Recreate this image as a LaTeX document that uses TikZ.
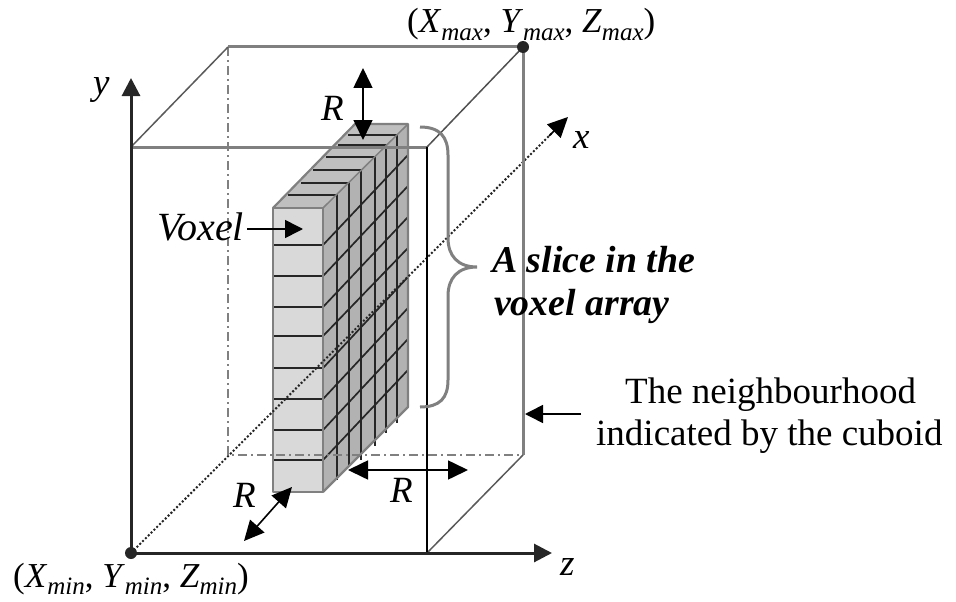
\documentclass[tikz,border=0pt]{standalone}
\usepackage{fontspec}
\setmainfont{Liberation Serif}
\usetikzlibrary{arrows.meta, positioning}
\definecolor{edgegray}{HTML}{808080}
\definecolor{axisdark}{HTML}{262626}
\tikzstyle{every node}=[font=\fontsize{37}{42}\selectfont, inner sep=0pt, anchor=base west]
\tikzstyle{heavyedge}=[draw=edgegray, line width=3pt]
\tikzstyle{thinedge}=[draw=axisdark!80!white, line width=1.5pt]
\tikzstyle{hiddenedge}=[draw=edgegray, line width=1.2pt, dash pattern=on 9pt off 4pt on 2pt off 4pt]
\tikzstyle{axis}=[draw=axisdark, line width=3pt, -{Triangle[length=18pt,width=18pt]}]
\tikzstyle{dimarrow}=[draw=black, line width=1.6pt, {Triangle[length=20pt,width=19pt]}-{Triangle[length=20pt,width=19pt]}]
\tikzstyle{pointer}=[draw=black, line width=1.6pt, -{Triangle[length=18pt,width=18pt]}]
\tikzstyle{gridline}=[draw=axisdark, line width=1.7pt]
\tikzstyle{cornerdot}=[circle, fill=axisdark, minimum size=12pt, anchor=center]
\tikzstyle{slicetext}=[font=\fontsize{37.8}{42}\selectfont\bfseries\itshape]
\newcommand{\subtxt}[1]{\raisebox{-0.22em}{\fontsize{25}{25}\selectfont\itshape #1}}
\newcommand{\corner}[1]{{\fontsize{35}{40}\selectfont(\textit{X}\subtxt{#1}, \textit{Y}\subtxt{#1}, \textit{Z}\subtxt{#1})}}

\begin{document}
\begin{tikzpicture}[x=1pt, y=-1pt]
    \useasboundingbox (0,0) rectangle (956,602);
    % cuboid corners
    \coordinate (fbl) at (131,553);
    \coordinate (ftl) at (131,147);
    \coordinate (ftr) at (427,147);
    \coordinate (fbr) at (427,553);
    \coordinate (btl) at (228,47);
    \coordinate (btr) at (523,47);
    \coordinate (bbr) at (523,455);
    \coordinate (bbl) at (228,455);
    % voxel slice
    \fill[gray!30!white] (273,208) rectangle (323,492);
    \fill[gray!60!white] (323,208) -- (408,124) -- (408,407) -- (323,492) -- cycle;
    \fill[gray!50!white] (273,208) -- (355,124) -- (408,124) -- (323,208) -- cycle;
    \foreach \a/\b in {245/155, 276/186, 307/217, 336/248, 368/277, 399/308, 430/339, 460/370}
        \draw[gridline] (273,\a) -- (323,\a) -- (408,\b);
    \foreach \xa/\ya/\xb/\yb/\yc in {288/195/337/195/480, 301/183/349/183/467, 313/170/361/170/460, 326/157/375/157/446, 338/145/386/145/433, 348/135/397/135/423}
        \draw[gridline] (\xa,\ya) -- (\xb,\yb) -- (\xb,\yc);
    \draw[edgegray, line width=2.2pt, line join=round] (323,208) -- (273,208) -- (273,492) -- (323,492) -- cycle;
    \draw[edgegray, line width=2.2pt, line join=round] (273,208) -- (355,124) -- (408,124) -- (408,407) -- (323,492);
    \draw[edgegray, line width=1.5pt] (323,208) -- (408,124);
    % hidden edges and x axis
    \draw[hiddenedge] (btl) -- (bbl) -- (bbr);
    \coordinate (xtip) at (568,117);
    \draw[draw=axisdark, line width=2pt, dotted] (fbl) -- (552,133);
    \draw[black, line width=1.5pt, -{Triangle[length=20pt,width=19pt]}] (549,136) -- (xtip);
    % visible edges
    \draw[heavyedge] (ftl) -- (ftr);
    \draw[heavyedge] (btl) -- (btr) -- (bbr);
    \draw[thinedge, edgegray!70!black] (ftl) -- (btl);
    \draw[thinedge] (ftr) -- (btr);
    \draw[thinedge, edgegray!70!black] (fbr) -- (bbr);
    \draw[draw=black, line width=1.6pt] (ftr) -- (fbr);
    % axes
    \coordinate (ytip) at (131,78);
    \coordinate (ztip) at (552,553);
    \draw[axis] (fbl) -- (ytip);
    \draw[axis] (fbl) -- (ztip);
    \node[cornerdot] (minpt) at (fbl) {};
    \node[cornerdot] (maxpt) at (btr) {};
    % brace
    \draw[edgegray, line width=3pt] (420,127) .. controls (440,127) and (448,137) .. (448,155)
        -- (448,238) .. controls (448,256) and (458,267) .. (477,267)
        .. controls (458,267) and (448,278) .. (448,296)
        -- (448,380) .. controls (448,398) and (440,407) .. (420,407);
    % labels
    \node (ylab) at (93,95) {\textit{y}};
    \node (xlab) at (573,148) {\textit{x}};
    \node (zlab) at (560,575) {\textit{z}};
    \node (maxlab) at (407,33) {\corner{max}};
    \node (minlab) at (13,587) {\corner{min}};
    \node (rtop) at (321,121) {\textit{R}};
    \node (rleft) at (233,507) {\textit{R}};
    \node (rright) at (390,502) {\textit{R}};
    \node[font=\fontsize{40}{44}\selectfont] (voxlab) at (157,240) {\textit{Voxel}};
    \node[slicetext] (slice1) at (492,272) {A slice in the};
    \node[slicetext] (slice2) at (494,315) {voxel array};
    \node (neigh1) at (625,403) {The neighbourhood};
    \node (neigh2) at (596,445) {indicated by the cuboid};
    % arrows
    \coordinate (ra) at (363,68);
    \coordinate (rb) at (363,140);
    \coordinate (rc) at (348,470);
    \coordinate (rd) at (468,470);
    \coordinate (re) at (292,487);
    \coordinate (rf) at (244,541);
    \draw[dimarrow] (ra) -- (rb);
    \draw[dimarrow] (rc) -- (rd);
    \draw[dimarrow] (re) -- (rf);
    \coordinate (va) at (247,229);
    \coordinate (vb) at (303,229);
    \draw[pointer] (va) -- (vb);
    \coordinate (ca) at (581,414);
    \coordinate (cb) at (525,414);
    \draw[pointer] (ca) -- (cb);
\end{tikzpicture}
\end{document}
